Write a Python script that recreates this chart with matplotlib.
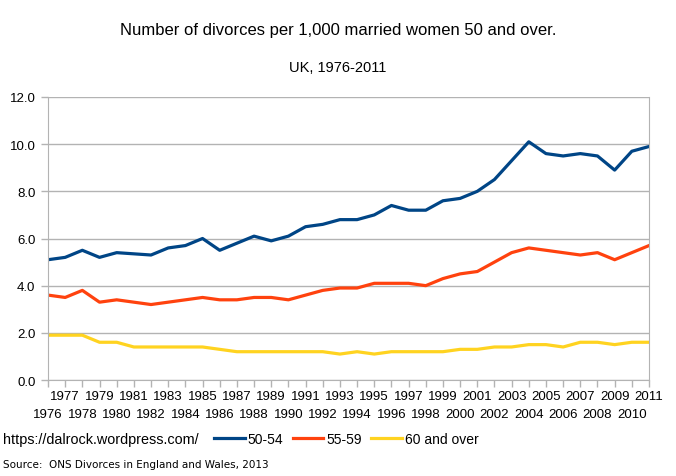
import matplotlib.pyplot as plt
import numpy as np

plt.rcParams['font.family'] = ['Liberation Sans', 'DejaVu Sans']

years = list(range(1976, 2012))
age_50_54 = [5.1, 5.2, 5.5, 5.2, 5.4, 5.35, 5.3, 5.6, 5.7, 6.0,
             5.5, 5.8, 6.1, 5.9, 6.1, 6.5, 6.6, 6.8, 6.8, 7.0,
             7.4, 7.2, 7.2, 7.6, 7.7, 8.0, 8.5, 9.3, 10.1, 9.6,
             9.5, 9.6, 9.5, 8.9, 9.7, 9.9]
age_55_59 = [3.6, 3.5, 3.8, 3.3, 3.4, 3.3, 3.2, 3.3, 3.4, 3.5,
             3.4, 3.4, 3.5, 3.5, 3.4, 3.6, 3.8, 3.9, 3.9, 4.1,
             4.1, 4.1, 4.0, 4.3, 4.5, 4.6, 5.0, 5.4, 5.6, 5.5,
             5.4, 5.3, 5.4, 5.1, 5.4, 5.7]
age_60_over = [1.9, 1.9, 1.9, 1.6, 1.6, 1.4, 1.4, 1.4, 1.4, 1.4,
               1.3, 1.2, 1.2, 1.2, 1.2, 1.2, 1.2, 1.1, 1.2, 1.1,
               1.2, 1.2, 1.2, 1.2, 1.3, 1.3, 1.4, 1.4, 1.5, 1.5,
               1.4, 1.6, 1.6, 1.5, 1.6, 1.6]

W, H = 676, 477
fig = plt.figure(figsize=(W / 100, H / 100), dpi=100)
ax = fig.add_axes([48 / W, 1 - 381 / H, (649 - 48) / W, (381 - 98) / H])

ax.plot(years, age_50_54, color='#004586', lw=2.3, label='50-54')
ax.plot(years, age_55_59, color='#ff420e', lw=2.3, label='55-59')
ax.plot(years, age_60_over, color='#ffd320', lw=2.3, label='60 and over')

ax.set_xlim(1976, 2011)
ax.set_ylim(0, 12)
yt = np.arange(0, 12.1, 2)
ax.set_yticks(yt)
ax.set_yticklabels([f"{v:.1f}" for v in yt], fontsize=9.5)

# odd years on the upper row, even years on the lower row
odd = [y for y in years if y % 2]
even = [y for y in years if not y % 2]
ax.set_xticks(odd)
ax.set_xticklabels([str(y) for y in odd], fontsize=9.5)
ax.set_xticks(even, minor=True)
ax.set_xticklabels([str(y) for y in even], minor=True, fontsize=9.5)

ax.grid(axis='y', color='#b3b3b3', lw=1)
ax.set_axisbelow(True)
for side in ['left', 'bottom', 'right']:
    ax.spines[side].set_color('#b3b3b3')
ax.spines['top'].set_visible(False)
ax.tick_params(axis='both', which='both', colors='#b3b3b3', length=5, width=1,
               labelcolor='black')
ax.tick_params(axis='y', pad=4)
ax.tick_params(axis='x', which='major', pad=2)
ax.tick_params(axis='x', which='minor', pad=15)

fig.text(0.5, 1 - 30 / H, "Number of divorces per 1,000 married women 50 and over.",
         ha='center', va='center', fontsize=12)
fig.text(0.5, 1 - 68 / H, "UK, 1976-2011", ha='center', va='center', fontsize=10.5)
fig.text(3 / W, 1 - 440 / H, "https://dalrock.wordpress.com/", ha='left', va='center',
         fontsize=10.4)
fig.text(3 / W, 1 - 465 / H, "Source:  ONS Divorces in England and Wales, 2013",
         ha='left', va='center', fontsize=7.5, family='DejaVu Sans')

fig.legend(loc='center left', bbox_to_anchor=(214 / W, 1 - 440 / H), ncol=3,
           frameon=False, fontsize=10, handlelength=2.2, handletextpad=0.2,
           columnspacing=0.7, borderpad=0, borderaxespad=0)

fig.savefig('out.png', dpi=100)
